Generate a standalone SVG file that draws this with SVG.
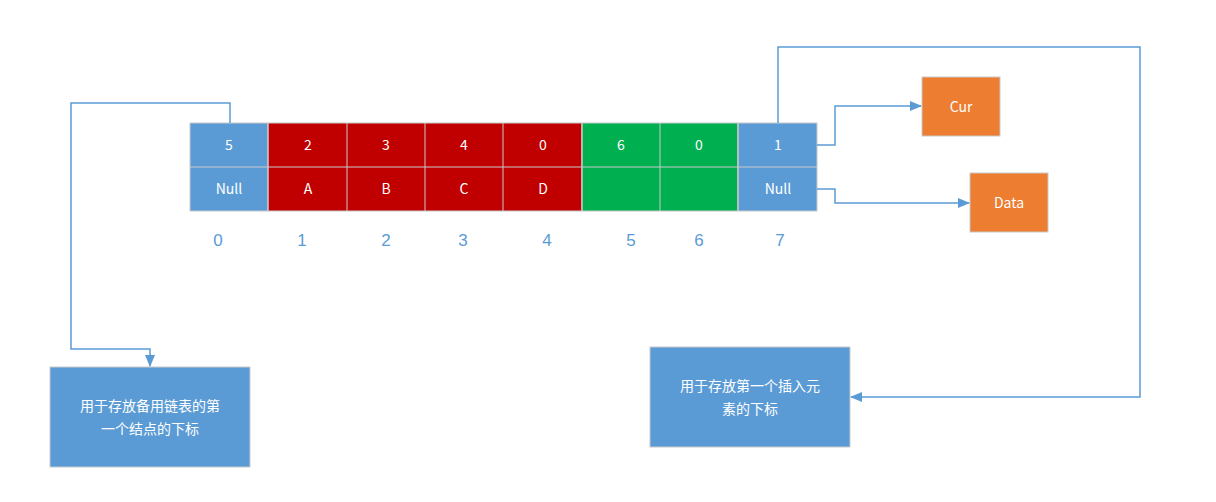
<svg xmlns="http://www.w3.org/2000/svg" width="1216" height="502" viewBox="0 0 1216 502">
<defs>
<marker id="a" markerWidth="12" markerHeight="10" refX="11" refY="5" orient="auto" markerUnits="userSpaceOnUse"><path d="M0,0L12,5L0,10z" fill="#5b9bd5"/></marker>
<style>
.t{font-family:"Noto Sans CJK SC","Liberation Sans",sans-serif;font-size:14px;fill:#fff;text-anchor:middle}
.i{font-family:"Liberation Sans",sans-serif;font-size:17px;fill:#5b9bd5;text-anchor:middle}
.c{stroke:#c9c9c9;stroke-width:1}
.l{fill:none;stroke:#5b9bd5;stroke-width:1.5}
</style>
</defs>
<rect width="1216" height="502" fill="#fff"/>
<g id="table">
<rect x="190" y="123" width="78" height="88" fill="#5b9bd5" class="c"/>
<rect x="268" y="123" width="314" height="88" fill="#c00000" class="c"/>
<rect x="582" y="123" width="156" height="88" fill="#00b050" class="c"/>
<rect x="738" y="123" width="79" height="88" fill="#5b9bd5" class="c"/>
<path d="M190 167H817M268 123V211M347 123V211M425 123V211M503 123V211M582 123V211M660 123V211M738 123V211" class="c"/>
<g class="t">
<text x="229" y="150">5</text><text x="308" y="150">2</text><text x="386" y="150">3</text><text x="464" y="150">4</text><text x="543" y="150">0</text><text x="621" y="150">6</text><text x="699" y="150">0</text><text x="778" y="150">1</text>
<text x="229" y="194">Null</text><text x="308" y="194">A</text><text x="386" y="194">B</text><text x="464" y="194">C</text><text x="543" y="194">D</text><text x="778" y="194">Null</text>
</g>
<g class="i">
<text x="218" y="246">0</text><text x="302" y="246">1</text><text x="386" y="246">2</text><text x="463" y="246">3</text><text x="547" y="246">4</text><text x="631" y="246">5</text><text x="699" y="246">6</text><text x="780" y="246">7</text>
</g>
</g>
<g id="cur"><rect x="922" y="77" width="78" height="59" fill="#ed7d31" class="c"/><text x="961" y="112" class="t">Cur</text></g>
<g id="data"><rect x="970" y="173" width="78" height="59" fill="#ed7d31" class="c"/><text x="1009" y="208" class="t">Data</text></g>
<g id="note1"><rect x="50" y="367" width="200" height="100" fill="#5b9bd5" class="c"/><text class="t" x="150" y="411">用于存放备用链表的第</text><text class="t" x="150" y="434">一个结点的下标</text></g>
<g id="note2"><rect x="650" y="347" width="200" height="100" fill="#5b9bd5" class="c"/><text class="t" x="750" y="391">用于存放第一个插入元</text><text class="t" x="750" y="414">素的下标</text></g>
<g id="connectors">
<path class="l" d="M230 123V103H71V349H150V366" marker-end="url(#a)"/>
<path class="l" d="M778 123V47H1140V397H851" marker-end="url(#a)"/>
<path class="l" d="M817 145H835V106H921" marker-end="url(#a)"/>
<path class="l" d="M817 189H835V203H969" marker-end="url(#a)"/>
</g>
</svg>
